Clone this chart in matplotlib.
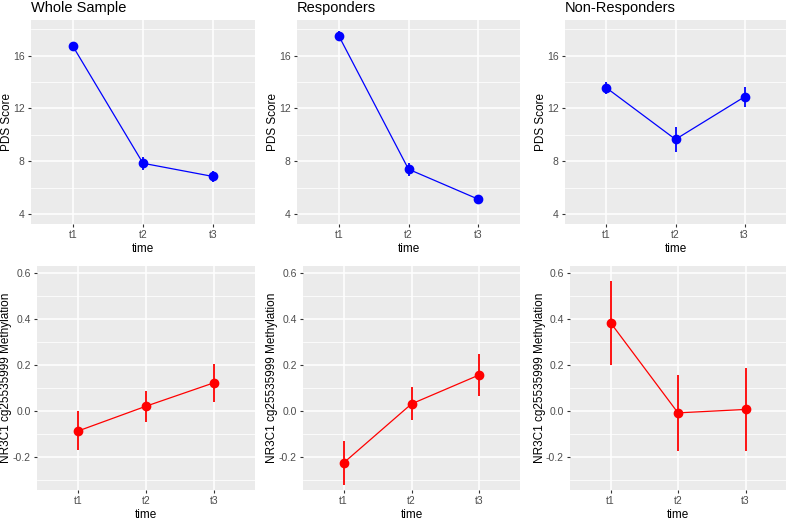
import matplotlib.pyplot as plt
import numpy as np

plt.rcParams['font.family'] = ['Liberation Sans', 'DejaVu Sans']

times = ["t1", "t2", "t3"]
groups = ["Whole Sample", "Responders", "Non-Responders"]

# PDS score: mean and error half-width
pds_mean = {
    "Whole Sample": [16.7, 7.85, 6.85],
    "Responders": [17.5, 7.4, 5.13],
    "Non-Responders": [13.56, 9.66, 12.88],
}
pds_err = {
    "Whole Sample": [0.3, 0.5, 0.45],
    "Responders": [0.35, 0.5, 0.3],
    "Non-Responders": [0.45, 0.95, 0.77],
}

# methylation: mean, lower and upper ends of the error bars
meth_mean = {
    "Whole Sample": [-0.088, 0.020, 0.122],
    "Responders": [-0.226, 0.030, 0.156],
    "Non-Responders": [0.383, -0.009, 0.006],
}
meth_lo = {
    "Whole Sample": [-0.170, -0.049, 0.040],
    "Responders": [-0.323, -0.042, 0.063],
    "Non-Responders": [0.199, -0.174, -0.174],
}
meth_hi = {
    "Whole Sample": [0.000, 0.088, 0.203],
    "Responders": [-0.133, 0.105, 0.246],
    "Non-Responders": [0.566, 0.157, 0.186],
}

W, H = 787, 518
fig = plt.figure(figsize=(W / 100, H / 100), dpi=100)

top_x = [(31, 255), (297, 520), (565, 786)]
bot_x = [(37, 255), (303, 520), (570, 786)]
top_y = (20, 224)
bot_y = (266, 490)


def make_ax(xr, yr):
    return fig.add_axes([xr[0] / W, 1 - yr[1] / H, (xr[1] - xr[0]) / W, (yr[1] - yr[0]) / H])


def style(ax, major, minor, ylim, fmt, xr, yr, ylab_x):
    ax.set_facecolor("#EBEBEB")
    for s in ax.spines.values():
        s.set_visible(False)
    ax.set_xlim(0.4, 3.6)
    ax.set_ylim(*ylim)
    ax.set_xticks([1, 2, 3])
    ax.set_xticklabels(times)
    ax.set_yticks(major)
    ax.set_yticklabels([fmt(v) for v in major])
    ax.set_yticks(minor, minor=True)
    ax.grid(which="major", color="white", linewidth=1.1, zorder=0)
    ax.grid(which="minor", axis="y", color="white", linewidth=0.55, zorder=0)
    ax.set_axisbelow(True)
    ax.tick_params(which="major", length=2.5, width=0.8, color="#333333",
                   labelsize=7.5, labelcolor="#4D4D4D", pad=2)
    ax.tick_params(which="minor", length=0)
    ax.set_xlabel("time", fontsize=8.5)
    ax.xaxis.set_label_coords(0.5, -18.5 / (yr[1] - yr[0]))
    w = xr[1] - xr[0]
    ax.yaxis.set_label_coords((ylab_x - xr[0]) / w, 0.5)


x = np.arange(1, 4)
for i, g in enumerate(groups):
    ax = make_ax(top_x[i], top_y)
    style(ax, [4, 8, 12, 16], [6, 10, 14, 18], (3.25, 18.7), lambda v: f"{v:g}",
          top_x[i], top_y, top_x[i][0] - 18)
    ax.errorbar(x, pds_mean[g], yerr=pds_err[g], color="#0000FF", marker="o",
                markersize=6, linewidth=0.9, elinewidth=1.3, capsize=0, zorder=3)
    ax.set_ylabel("PDS Score", fontsize=8.5)
    ax.set_title(g, loc="left", fontsize=10.5, pad=6)

    ax = make_ax(bot_x[i], bot_y)
    style(ax, [-0.2, 0.0, 0.2, 0.4, 0.6], [-0.3, -0.1, 0.1, 0.3, 0.5],
          (-0.344, 0.629), lambda v: f"{v:.1f}", bot_x[i], bot_y, bot_x[i][0] - 24.5)
    m = np.array(meth_mean[g])
    lo = m - np.array(meth_lo[g])
    hi = np.array(meth_hi[g]) - m
    ax.errorbar(x, m, yerr=[lo, hi], color="#FF0000", marker="o",
                markersize=6, linewidth=0.9, elinewidth=1.3, capsize=0, zorder=3)
    ax.set_ylabel("NR3C1 cg25535999 Methylation", fontsize=8.5)

fig.savefig("out.png", dpi=100)
